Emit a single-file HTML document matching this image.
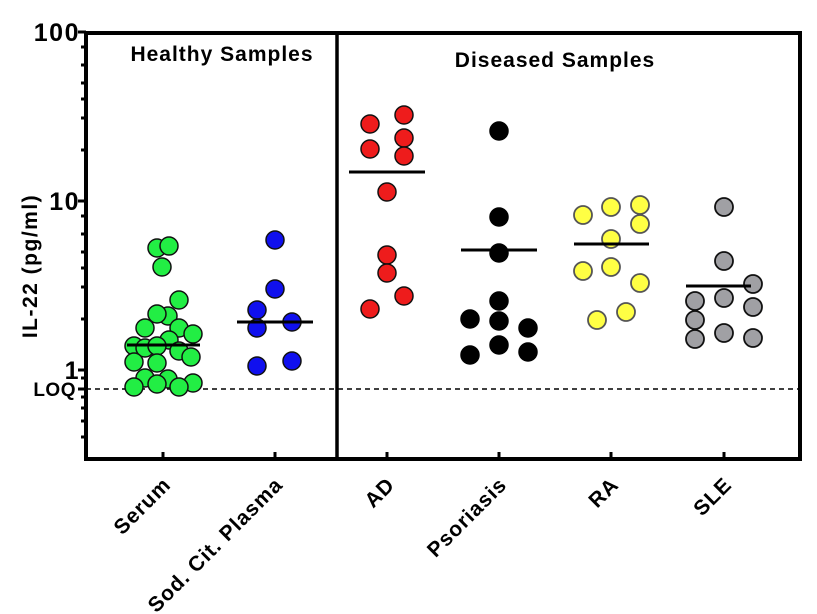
<!DOCTYPE html>
<html><head><meta charset="utf-8"><style>
html,body{margin:0;padding:0;background:#fff;}
svg{display:block;font-family:"Liberation Sans",Arial,sans-serif;font-weight:bold;}
</style></head><body>
<svg width="817" height="614" viewBox="0 0 817 614" xmlns="http://www.w3.org/2000/svg">
<line x1="86" y1="389" x2="800" y2="389" stroke="#000" stroke-width="1.5" stroke-dasharray="5,4"/>
<rect x="86" y="33" width="714" height="426" fill="none" stroke="#000" stroke-width="4"/>
<line x1="337" y1="33" x2="337" y2="459" stroke="#000" stroke-width="3.5"/>
<g stroke="#000" stroke-width="3">
<line x1="78" y1="32" x2="86" y2="32"/><line x1="78" y1="201" x2="86" y2="201"/><line x1="78" y1="370" x2="86" y2="370"/>
<line x1="78" y1="389" x2="86" y2="389"/>
<line x1="163" y1="452" x2="163" y2="459"/><line x1="275" y1="452" x2="275" y2="459"/>
<line x1="387" y1="452" x2="387" y2="459"/><line x1="499" y1="452" x2="499" y2="459"/>
<line x1="611" y1="452" x2="611" y2="459"/><line x1="724" y1="452" x2="724" y2="459"/>
</g>
<g font-size="25" text-anchor="end" letter-spacing="1.5">
<text x="80" y="41">100</text><text x="80" y="210">10</text><text x="80" y="379">1</text>
</g>
<text x="76" y="396" font-size="19" text-anchor="end" letter-spacing="0.5">LOQ</text>
<text transform="translate(37,266) rotate(-90)" font-size="21" text-anchor="middle" letter-spacing="1.5">IL-22 (pg/ml)</text>
<text x="222" y="61" font-size="21" text-anchor="middle" letter-spacing="1">Healthy Samples</text>
<text x="555" y="67" font-size="21" text-anchor="middle" letter-spacing="1">Diseased Samples</text>
<g font-size="21" text-anchor="end" letter-spacing="1">
<text transform="translate(172,486) rotate(-45)">Serum</text>
<text transform="translate(284,486) rotate(-45)">Sod. Cit. Plasma</text>
<text transform="translate(396,486) rotate(-45)">AD</text>
<text transform="translate(508,486) rotate(-45)">Psoriasis</text>
<text transform="translate(620,486) rotate(-45)">RA</text>
<text transform="translate(733,486) rotate(-45)">SLE</text>
</g>
<g fill="#22ee44" stroke="#111" stroke-width="1.5">
<circle cx="157" cy="248" r="9"/><circle cx="169" cy="246" r="9"/><circle cx="162" cy="267" r="9"/>
<circle cx="179" cy="300" r="9"/><circle cx="168" cy="316" r="9"/><circle cx="157" cy="314" r="9"/>
<circle cx="145" cy="328" r="9"/><circle cx="179" cy="328" r="9"/><circle cx="193" cy="334" r="9"/>
<circle cx="169" cy="340" r="9"/><circle cx="134" cy="346" r="9"/><circle cx="145" cy="348" r="9"/>
<circle cx="179" cy="351" r="9"/><circle cx="157" cy="346" r="9"/><circle cx="191" cy="357" r="9"/>
<circle cx="134" cy="362" r="9"/><circle cx="157" cy="363" r="9"/><circle cx="145" cy="378" r="9"/>
<circle cx="168" cy="379" r="9"/><circle cx="193" cy="383" r="9"/><circle cx="134" cy="387" r="9"/>
<circle cx="157" cy="384" r="9"/><circle cx="179" cy="387" r="9"/>
</g>
<g fill="#1010ee" stroke="#111" stroke-width="1.5">
<circle cx="275" cy="240" r="9"/><circle cx="275" cy="289" r="9"/><circle cx="257" cy="310" r="9"/>
<circle cx="257" cy="328" r="9"/><circle cx="292" cy="322" r="9"/><circle cx="257" cy="366" r="9"/><circle cx="292" cy="361" r="9"/>
</g>
<g fill="#ee1c1c" stroke="#111" stroke-width="1.5">
<circle cx="370" cy="124" r="9"/><circle cx="404" cy="115" r="9"/><circle cx="370" cy="149" r="9"/>
<circle cx="404" cy="138" r="9"/><circle cx="404" cy="156" r="9"/><circle cx="387" cy="192" r="9"/>
<circle cx="387" cy="255" r="9"/><circle cx="387" cy="273" r="9"/><circle cx="404" cy="296" r="9"/><circle cx="370" cy="309" r="9"/>
</g>
<g fill="#000" stroke="#000" stroke-width="1.5">
<circle cx="499" cy="131" r="9"/><circle cx="499" cy="217" r="9"/><circle cx="499" cy="253" r="9"/>
<circle cx="499" cy="301" r="9"/><circle cx="470" cy="319" r="9"/><circle cx="499" cy="321" r="9"/>
<circle cx="528" cy="328" r="9"/><circle cx="470" cy="355" r="9"/><circle cx="499" cy="345" r="9"/><circle cx="528" cy="352" r="9"/>
</g>
<g fill="#ffff44" stroke="#555" stroke-width="1.8">
<circle cx="583" cy="215" r="9"/><circle cx="611" cy="207" r="9"/><circle cx="640" cy="205" r="9"/>
<circle cx="640" cy="224" r="9"/><circle cx="611" cy="239" r="9"/><circle cx="583" cy="271" r="9"/>
<circle cx="611" cy="267" r="9"/><circle cx="640" cy="283" r="9"/><circle cx="597" cy="320" r="9"/><circle cx="626" cy="312" r="9"/>
</g>
<g fill="#a0a0a4" stroke="#111" stroke-width="1.8">
<circle cx="724" cy="207" r="9"/><circle cx="724" cy="261" r="9"/><circle cx="753" cy="284" r="9"/>
<circle cx="695" cy="301" r="9"/><circle cx="724" cy="298" r="9"/><circle cx="753" cy="307" r="9"/>
<circle cx="695" cy="320" r="9"/><circle cx="695" cy="339" r="9"/><circle cx="724" cy="333" r="9"/><circle cx="753" cy="338" r="9"/>
</g>
<g stroke="#000" stroke-width="3">
<line x1="127" y1="345" x2="200" y2="345"/>
<line x1="237" y1="322" x2="313" y2="322"/>
<line x1="349" y1="172" x2="425" y2="172"/>
<line x1="461" y1="250" x2="537" y2="250"/>
<line x1="574" y1="244" x2="649" y2="244"/>
<line x1="686" y1="286" x2="751" y2="286"/>
</g>
<g stroke="#000" stroke-width="3">
<line x1="81" y1="47" x2="86" y2="47"/><line x1="81" y1="65" x2="86" y2="65"/><line x1="81" y1="83" x2="86" y2="83"/>
<line x1="81" y1="99" x2="86" y2="99"/><line x1="81" y1="118" x2="86" y2="118"/><line x1="81" y1="150" x2="86" y2="150"/>
<line x1="81" y1="216" x2="86" y2="216"/><line x1="81" y1="234" x2="86" y2="234"/><line x1="81" y1="252" x2="86" y2="252"/>
<line x1="81" y1="268" x2="86" y2="268"/><line x1="81" y1="287" x2="86" y2="287"/><line x1="81" y1="319" x2="86" y2="319"/>
<line x1="81" y1="378" x2="86" y2="378"/><line x1="81" y1="397" x2="86" y2="397"/>
<line x1="81" y1="408" x2="86" y2="408"/><line x1="81" y1="421" x2="86" y2="421"/><line x1="81" y1="437" x2="86" y2="437"/>
</g>
</svg>
</body></html>
